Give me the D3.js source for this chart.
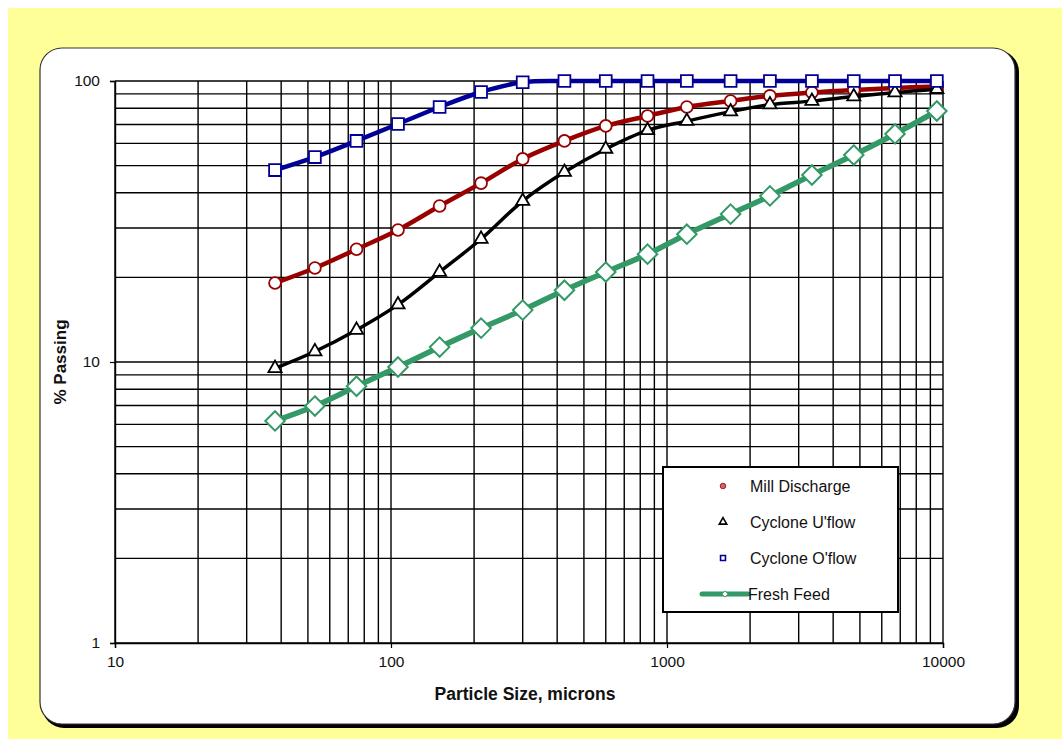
<!DOCTYPE html>
<html>
<head>
<meta charset="utf-8">
<script src="https://cdn.jsdelivr.net/npm/d3@7"></script>
<style>
  html, body { margin: 0; padding: 0; background: #ffffff; }
  svg { display: block; }
  text { font-family: "Liberation Sans", Arial, sans-serif; }
</style>
</head>
<body>
<svg id="chart" width="1062" height="739"></svg>
<script>
// ---- data ----
const sizes = [38, 53, 75, 106, 150, 212, 300, 425, 600, 850, 1180, 1700, 2360, 3350, 4750, 6700, 9500];
const millDischarge = [19.1, 21.6, 25.2, 29.5, 35.9, 43.3, 52.8, 61.2, 69.2, 75.1, 80.8, 84.9, 88.5, 91.0, 92.9, 94.4, 95.6];
const cycloneUflow = [9.5, 10.9, 13.0, 16.0, 20.9, 27.4, 37.4, 47.4, 57.3, 66.7, 72.0, 77.8, 82.4, 84.8, 88.0, 91.0, 93.5];
const cycloneOflow = [48.2, 53.6, 61.2, 70.3, 80.8, 91.4, 99.0, 100, 100, 100, 100, 100, 100, 100, 100, 100, 100];
const freshFeed = [6.17, 6.97, 8.2, 9.6, 11.3, 13.2, 15.3, 18.0, 20.9, 24.2, 28.5, 33.6, 39.0, 46.3, 54.5, 64.8, 78.2];
const seriesNames = ["Mill Discharge", "Cyclone U'flow", "Cyclone O'flow", "Fresh Feed"];
const xTickLabels = [10, 100, 1000, 10000];
const yTickLabels = [1, 10, 100];
const xTitle = "Particle Size, microns";
const yTitle = "% Passing";

(function () {
// ---- layout ----
const svg = d3.select("#chart");
const W = 1062, H = 739;
const pL = 115, pR = 943, pT = 81, pB = 643;

svg.append("rect").attr("x", 8).attr("y", 8).attr("width", W - 8).attr("height", H - 8).attr("fill", "#FFFF99");

// card shadow + card
svg.append("rect").attr("x", 42).attr("y", 50).attr("width", 977).attr("height", 678)
  .attr("rx", 22).attr("fill", "#000");
svg.append("rect").attr("x", 40).attr("y", 48).attr("width", 975).attr("height", 676)
  .attr("rx", 22).attr("fill", "#fff").attr("stroke", "#333").attr("stroke-width", 1.2);

const x = d3.scaleLog().domain([10, 10000]).range([pL, pR]);
const y = d3.scaleLog().domain([1, 100]).range([pB, pT]);

// gridlines
const xGrid = [];
for (let d = 10; d < 10000; d *= 10) for (let k = 1; k <= 10; k++) xGrid.push(d * k);
const yGrid = [];
for (let d = 1; d < 100; d *= 10) for (let k = 1; k <= 10; k++) yGrid.push(d * k);

const grid = svg.append("g");
grid.selectAll("line.v").data(Array.from(new Set(xGrid))).join("line").attr("class", "v")
  .attr("x1", d => x(d)).attr("x2", d => x(d)).attr("y1", pT).attr("y2", pB)
  .attr("stroke", "#000").attr("stroke-width", 1.4);
grid.selectAll("line.h").data(Array.from(new Set(yGrid))).join("line").attr("class", "h")
  .attr("y1", d => y(d)).attr("y2", d => y(d)).attr("x1", pL).attr("x2", pR)
  .attr("stroke", "#000").attr("stroke-width", 1.4);

// axes
const xAxis = d3.axisBottom(x).tickValues(xTickLabels).tickFormat(d3.format("d")).tickSize(5).tickPadding(8);
const yAxis = d3.axisLeft(y).tickValues(yTickLabels).tickFormat(d3.format("d")).tickSize(5).tickPadding(10);
const gx = svg.append("g").attr("transform", `translate(0,${pB})`).call(xAxis);
const gy = svg.append("g").attr("transform", `translate(${pL},0)`).call(yAxis);
[gx, gy].forEach(g => {
  g.select(".domain").attr("stroke", "#000").attr("stroke-width", 1.4);
  g.selectAll(".tick line").attr("stroke", "#000").attr("stroke-width", 1.2);
  g.selectAll(".tick text").attr("font-size", 15.5).attr("fill", "#111")
    .attr("font-family", "'Liberation Sans', Arial, sans-serif");
});

svg.append("text").attr("x", 525).attr("y", 700).attr("text-anchor", "middle")
  .attr("font-size", 17.5).attr("font-weight", "bold").attr("fill", "#111").text(xTitle);
svg.append("text").attr("transform", `translate(66,362) rotate(-90)`)
  .attr("text-anchor", "middle").attr("font-size", 17).attr("font-weight", "bold").attr("fill", "#111").text(yTitle);

// series
const diamond = { draw(ctx, size) { const r = Math.sqrt(size) / 2; ctx.moveTo(0, -r); ctx.lineTo(r, 0); ctx.lineTo(0, r); ctx.lineTo(-r, 0); ctx.closePath(); } };
const series = [
  { name: seriesNames[0], values: millDischarge, color: "#990000", width: 4.5, marker: "circle", msize: 110 },
  { name: seriesNames[1], values: cycloneUflow, color: "#000000", width: 3.5, marker: "triangle", msize: 75 },
  { name: seriesNames[2], values: cycloneOflow, color: "#000099", width: 4.5, marker: "square", msize: 140 },
  { name: seriesNames[3], values: freshFeed, color: "#339966", width: 5.5, marker: "diamond", msize: 380 }
];
const symbolType = { circle: d3.symbolCircle, triangle: d3.symbolTriangle, square: d3.symbolSquare, diamond: diamond };

const line = d3.line().x(d => x(d[0])).y(d => y(d[1])).curve(d3.curveCatmullRom.alpha(0.5));

series.forEach(s => {
  const pts = sizes.map((sz, i) => [sz, s.values[i]]);
  const g = svg.append("g");
  g.append("path").attr("d", line(pts)).attr("fill", "none").attr("stroke", s.color)
    .attr("stroke-width", s.width).attr("stroke-linejoin", "round");
  g.selectAll("path.m").data(pts).join("path").attr("class", "m")
    .attr("transform", d => `translate(${x(d[0])},${y(d[1])})`)
    .attr("d", d3.symbol().type(symbolType[s.marker]).size(s.msize))
    .attr("fill", "#fff").attr("stroke", s.color).attr("stroke-width", s.marker === "diamond" ? 2 : 1.8);
});

// legend
const lg = svg.append("g");
lg.append("rect").attr("x", 663).attr("y", 467).attr("width", 235).attr("height", 145)
  .attr("fill", "#fff").attr("stroke", "#000").attr("stroke-width", 2);
const legY = [486, 522, 558, 594];
series.forEach((s, i) => {
  if (s.marker === "diamond") {
    lg.append("line").attr("x1", 702).attr("x2", 748).attr("y1", legY[i]).attr("y2", legY[i])
      .attr("stroke", s.color).attr("stroke-width", 5).attr("stroke-linecap", "round");
    lg.append("path").attr("transform", `translate(725,${legY[i]})`)
      .attr("d", d3.symbol().type(diamond).size(40)).attr("fill", "#fff").attr("stroke", s.color).attr("stroke-width", 1);
  } else if (s.marker === "circle") {
    lg.append("circle").attr("cx", 723).attr("cy", legY[i]).attr("r", 2.8).attr("fill", "#cc6666").attr("stroke", "#990000").attr("stroke-width", 0.8);
  } else {
    lg.append("path").attr("transform", `translate(723,${legY[i]})`)
      .attr("d", d3.symbol().type(symbolType[s.marker]).size(24)).attr("fill", "#fff").attr("stroke", s.color).attr("stroke-width", 1.6);
  }
  lg.append("text").attr("x", s.marker === "diamond" ? 748 : 750).attr("y", legY[i]).attr("dy", "0.35em")
    .attr("font-size", 16).attr("fill", "#111").text(s.name);
});
})();
</script>
</body>
</html>
